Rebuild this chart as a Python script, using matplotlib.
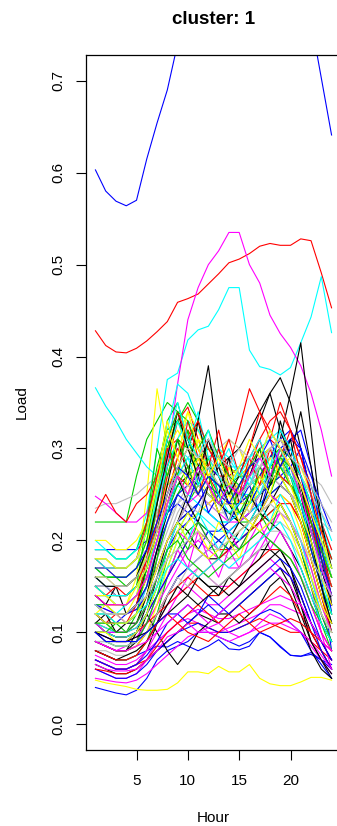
import numpy as np
import matplotlib.pyplot as plt
from cycler import cycler

# 時間軸
hours = np.arange(1, 25)

# 各世帯の負荷（色順: black, red, green3, blue, cyan, magenta, yellow, gray）
black0 = [0.10, 0.09, 0.09, 0.09, 0.10, 0.13, 0.18, 0.24, 0.28, 0.30, 0.33, 0.39, 0.30, 0.26, 0.23, 0.22, 0.24, 0.28, 0.30, 0.27, 0.24, 0.20, 0.15, 0.10]
red0 = [0.428, 0.412, 0.405, 0.404, 0.409, 0.417, 0.427, 0.438, 0.459, 0.463, 0.468, 0.479, 0.49, 0.502, 0.506, 0.512, 0.52, 0.523, 0.521, 0.521, 0.528, 0.526, 0.491, 0.453]
green0 = [0.22, 0.22, 0.22, 0.22, 0.27, 0.31, 0.33, 0.35, 0.34, 0.31, 0.29, 0.28, 0.27, 0.26, 0.25, 0.26, 0.27, 0.28, 0.27, 0.26, 0.25, 0.22, 0.18, 0.15]
blue0 = [0.603, 0.58, 0.569, 0.564, 0.57, 0.615, 0.654, 0.69, 0.74, 0.78, 0.80, 0.82, 0.83, 0.83, 0.82, 0.81, 0.80, 0.79, 0.78, 0.775, 0.77, 0.765, 0.703, 0.641]
cyan0 = [0.20, 0.19, 0.18, 0.18, 0.19, 0.23, 0.30, 0.375, 0.382, 0.418, 0.429, 0.433, 0.451, 0.475, 0.475, 0.407, 0.389, 0.386, 0.38, 0.388, 0.415, 0.443, 0.487, 0.426]
magenta0 = [0.12, 0.11, 0.11, 0.11, 0.12, 0.15, 0.22, 0.29, 0.37, 0.44, 0.475, 0.50, 0.515, 0.535, 0.535, 0.50, 0.48, 0.445, 0.425, 0.41, 0.39, 0.36, 0.32, 0.27]
yellow0 = [0.14, 0.13, 0.13, 0.13, 0.16, 0.25, 0.365, 0.30, 0.27, 0.28, 0.27, 0.25, 0.24, 0.24, 0.23, 0.24, 0.25, 0.26, 0.27, 0.26, 0.24, 0.21, 0.18, 0.15]
gray0 = [0.235, 0.24, 0.24, 0.245, 0.25, 0.26, 0.27, 0.29, 0.30, 0.31, 0.30, 0.29, 0.28, 0.27, 0.27, 0.28, 0.29, 0.30, 0.31, 0.30, 0.29, 0.27, 0.26, 0.24]

black1 = [0.13, 0.12, 0.12, 0.12, 0.13, 0.16, 0.20, 0.24, 0.26, 0.27, 0.26, 0.25, 0.24, 0.24, 0.25, 0.27, 0.29, 0.30, 0.31, 0.36, 0.415, 0.32, 0.22, 0.13]
red1 = [0.16, 0.15, 0.15, 0.15, 0.16, 0.19, 0.23, 0.26, 0.27, 0.26, 0.25, 0.24, 0.25, 0.28, 0.32, 0.365, 0.34, 0.32, 0.30, 0.28, 0.27, 0.24, 0.20, 0.16]
green1 = [0.18, 0.18, 0.17, 0.17, 0.18, 0.21, 0.27, 0.33, 0.35, 0.31, 0.28, 0.26, 0.25, 0.24, 0.23, 0.24, 0.26, 0.28, 0.29, 0.28, 0.26, 0.23, 0.19, 0.16]
blue1 = [0.04, 0.037, 0.034, 0.032, 0.037, 0.05, 0.07, 0.08, 0.085, 0.09, 0.10, 0.10, 0.095, 0.09, 0.085, 0.09, 0.10, 0.095, 0.085, 0.075, 0.074, 0.078, 0.07, 0.06]
cyan1 = [0.366, 0.346, 0.33, 0.31, 0.295, 0.28, 0.27, 0.26, 0.27, 0.29, 0.30, 0.28, 0.26, 0.25, 0.26, 0.27, 0.28, 0.29, 0.30, 0.29, 0.27, 0.24, 0.20, 0.17]
magenta1 = [0.248, 0.24, 0.23, 0.22, 0.22, 0.23, 0.26, 0.29, 0.30, 0.28, 0.27, 0.26, 0.25, 0.25, 0.26, 0.27, 0.28, 0.27, 0.26, 0.25, 0.24, 0.22, 0.19, 0.16]
yellow1 = [0.15, 0.14, 0.14, 0.14, 0.15, 0.19, 0.26, 0.31, 0.33, 0.30, 0.28, 0.27, 0.29, 0.31, 0.30, 0.27, 0.25, 0.26, 0.28, 0.29, 0.27, 0.24, 0.20, 0.17]
gray1 = [0.12, 0.11, 0.11, 0.11, 0.12, 0.14, 0.18, 0.22, 0.25, 0.27, 0.28, 0.29, 0.30, 0.31, 0.30, 0.28, 0.27, 0.27, 0.28, 0.27, 0.25, 0.22, 0.19, 0.16]

black2 = [0.09, 0.085, 0.08, 0.08, 0.09, 0.12, 0.16, 0.20, 0.22, 0.23, 0.24, 0.26, 0.28, 0.29, 0.30, 0.32, 0.34, 0.36, 0.377, 0.35, 0.30, 0.25, 0.18, 0.12]
red2 = [0.13, 0.12, 0.12, 0.12, 0.13, 0.17, 0.22, 0.28, 0.33, 0.345, 0.31, 0.28, 0.26, 0.25, 0.26, 0.28, 0.30, 0.31, 0.30, 0.28, 0.26, 0.23, 0.19, 0.15]
green2 = [0.10, 0.10, 0.095, 0.095, 0.10, 0.12, 0.15, 0.19, 0.22, 0.24, 0.26, 0.25, 0.24, 0.23, 0.22, 0.22, 0.23, 0.25, 0.26, 0.25, 0.23, 0.19, 0.15, 0.11]
blue2 = [0.08, 0.075, 0.07, 0.07, 0.075, 0.08, 0.085, 0.084, 0.09, 0.085, 0.08, 0.085, 0.092, 0.082, 0.081, 0.085, 0.10, 0.095, 0.084, 0.075, 0.074, 0.076, 0.07, 0.065]
cyan2 = [0.17, 0.16, 0.16, 0.16, 0.17, 0.20, 0.26, 0.32, 0.37, 0.36, 0.33, 0.30, 0.28, 0.26, 0.25, 0.25, 0.26, 0.27, 0.28, 0.27, 0.25, 0.22, 0.18, 0.15]
magenta2 = [0.06, 0.055, 0.05, 0.05, 0.055, 0.07, 0.09, 0.10, 0.11, 0.115, 0.11, 0.10, 0.10, 0.105, 0.11, 0.115, 0.12, 0.13, 0.13, 0.125, 0.12, 0.10, 0.08, 0.06]
yellow2 = [0.048, 0.045, 0.043, 0.041, 0.038, 0.037, 0.037, 0.038, 0.045, 0.057, 0.057, 0.055, 0.063, 0.057, 0.057, 0.065, 0.05, 0.044, 0.042, 0.042, 0.046, 0.051, 0.051, 0.048]
gray2 = [0.17, 0.16, 0.16, 0.16, 0.17, 0.19, 0.23, 0.27, 0.29, 0.31, 0.32, 0.30, 0.28, 0.26, 0.24, 0.25, 0.27, 0.28, 0.30, 0.29, 0.27, 0.25, 0.22, 0.19]

black3 = [0.07, 0.065, 0.06, 0.06, 0.065, 0.08, 0.11, 0.14, 0.16, 0.17, 0.16, 0.15, 0.15, 0.16, 0.17, 0.18, 0.19, 0.19, 0.18, 0.16, 0.13, 0.10, 0.08, 0.06]
red3 = [0.23, 0.25, 0.23, 0.22, 0.24, 0.25, 0.27, 0.30, 0.31, 0.30, 0.29, 0.28, 0.27, 0.27, 0.28, 0.29, 0.31, 0.33, 0.34, 0.32, 0.29, 0.26, 0.22, 0.19]
green3 = [0.14, 0.14, 0.13, 0.13, 0.14, 0.17, 0.22, 0.28, 0.31, 0.30, 0.28, 0.26, 0.24, 0.23, 0.23, 0.24, 0.25, 0.26, 0.27, 0.25, 0.22, 0.19, 0.15, 0.12]
blue3 = [0.19, 0.19, 0.19, 0.19, 0.19, 0.20, 0.21, 0.23, 0.25, 0.26, 0.27, 0.28, 0.27, 0.26, 0.25, 0.26, 0.28, 0.29, 0.30, 0.31, 0.30, 0.27, 0.24, 0.21]
cyan3 = [0.12, 0.11, 0.11, 0.11, 0.12, 0.15, 0.19, 0.24, 0.27, 0.28, 0.27, 0.26, 0.25, 0.25, 0.24, 0.25, 0.26, 0.27, 0.28, 0.27, 0.25, 0.21, 0.17, 0.13]
magenta3 = [0.08, 0.075, 0.07, 0.07, 0.075, 0.09, 0.11, 0.13, 0.14, 0.15, 0.14, 0.13, 0.13, 0.14, 0.15, 0.16, 0.17, 0.18, 0.17, 0.16, 0.14, 0.11, 0.09, 0.07]
yellow3 = [0.20, 0.20, 0.19, 0.19, 0.20, 0.22, 0.26, 0.30, 0.33, 0.31, 0.29, 0.27, 0.26, 0.25, 0.26, 0.27, 0.28, 0.29, 0.30, 0.28, 0.26, 0.23, 0.20, 0.17]
gray3 = [0.10, 0.10, 0.095, 0.095, 0.10, 0.11, 0.13, 0.16, 0.18, 0.19, 0.20, 0.21, 0.20, 0.19, 0.19, 0.20, 0.21, 0.22, 0.22, 0.21, 0.19, 0.16, 0.13, 0.11]

black4 = [0.15, 0.15, 0.14, 0.14, 0.15, 0.18, 0.24, 0.30, 0.33, 0.31, 0.28, 0.26, 0.24, 0.23, 0.22, 0.23, 0.25, 0.27, 0.28, 0.27, 0.25, 0.22, 0.19, 0.16]
red4 = [0.07, 0.065, 0.06, 0.06, 0.065, 0.07, 0.08, 0.09, 0.10, 0.11, 0.11, 0.105, 0.10, 0.10, 0.105, 0.11, 0.115, 0.11, 0.105, 0.10, 0.10, 0.09, 0.08, 0.07]
green4 = [0.16, 0.16, 0.16, 0.15, 0.16, 0.19, 0.25, 0.30, 0.33, 0.35, 0.33, 0.30, 0.29, 0.28, 0.27, 0.26, 0.27, 0.28, 0.27, 0.26, 0.24, 0.21, 0.18, 0.15]
blue4 = [0.09, 0.085, 0.08, 0.08, 0.085, 0.10, 0.12, 0.14, 0.16, 0.17, 0.18, 0.19, 0.20, 0.21, 0.22, 0.23, 0.24, 0.25, 0.26, 0.28, 0.30, 0.25, 0.16, 0.08]
cyan4 = [0.14, 0.14, 0.13, 0.13, 0.14, 0.16, 0.20, 0.24, 0.26, 0.25, 0.24, 0.23, 0.22, 0.22, 0.23, 0.24, 0.26, 0.28, 0.30, 0.29, 0.27, 0.24, 0.20, 0.16]
magenta4 = [0.07, 0.065, 0.06, 0.06, 0.065, 0.08, 0.10, 0.12, 0.14, 0.16, 0.17, 0.16, 0.15, 0.15, 0.16, 0.17, 0.19, 0.21, 0.23, 0.22, 0.19, 0.15, 0.10, 0.06]
yellow4 = [0.11, 0.11, 0.10, 0.10, 0.11, 0.14, 0.19, 0.25, 0.29, 0.32, 0.30, 0.28, 0.26, 0.25, 0.24, 0.25, 0.26, 0.28, 0.30, 0.28, 0.25, 0.20, 0.15, 0.11]
gray4 = [0.13, 0.13, 0.12, 0.12, 0.13, 0.15, 0.18, 0.21, 0.24, 0.25, 0.26, 0.25, 0.24, 0.24, 0.25, 0.26, 0.27, 0.28, 0.28, 0.27, 0.26, 0.24, 0.21, 0.18]

black5 = [0.065, 0.06, 0.055, 0.055, 0.06, 0.07, 0.08, 0.09, 0.10, 0.11, 0.12, 0.115, 0.11, 0.12, 0.13, 0.14, 0.15, 0.16, 0.17, 0.15, 0.12, 0.09, 0.07, 0.05]
red5 = [0.11, 0.105, 0.10, 0.10, 0.105, 0.12, 0.14, 0.16, 0.18, 0.20, 0.21, 0.20, 0.19, 0.19, 0.20, 0.21, 0.23, 0.24, 0.25, 0.24, 0.22, 0.18, 0.14, 0.11]
green5 = [0.12, 0.12, 0.11, 0.11, 0.12, 0.14, 0.18, 0.22, 0.25, 0.27, 0.28, 0.27, 0.26, 0.25, 0.25, 0.26, 0.27, 0.28, 0.29, 0.28, 0.26, 0.22, 0.17, 0.13]
blue5 = [0.15, 0.15, 0.14, 0.14, 0.15, 0.17, 0.20, 0.23, 0.24, 0.23, 0.22, 0.21, 0.21, 0.22, 0.23, 0.24, 0.25, 0.26, 0.27, 0.28, 0.26, 0.22, 0.17, 0.13]
cyan5 = [0.16, 0.15, 0.15, 0.15, 0.16, 0.18, 0.22, 0.27, 0.30, 0.29, 0.28, 0.29, 0.30, 0.29, 0.27, 0.26, 0.27, 0.29, 0.31, 0.29, 0.27, 0.25, 0.22, 0.18]
magenta5 = [0.05, 0.048, 0.046, 0.045, 0.048, 0.055, 0.065, 0.075, 0.085, 0.095, 0.10, 0.10, 0.095, 0.09, 0.095, 0.10, 0.105, 0.11, 0.11, 0.105, 0.10, 0.085, 0.07, 0.055]
yellow5 = [0.17, 0.17, 0.16, 0.16, 0.17, 0.20, 0.25, 0.30, 0.32, 0.30, 0.28, 0.26, 0.25, 0.24, 0.24, 0.25, 0.27, 0.28, 0.28, 0.27, 0.25, 0.22, 0.19, 0.16]
gray5 = [0.18, 0.18, 0.17, 0.17, 0.18, 0.19, 0.22, 0.25, 0.27, 0.28, 0.27, 0.26, 0.25, 0.25, 0.25, 0.26, 0.27, 0.27, 0.26, 0.25, 0.24, 0.23, 0.22, 0.21]

black6 = [0.12, 0.11, 0.11, 0.11, 0.12, 0.14, 0.17, 0.20, 0.22, 0.21, 0.19, 0.18, 0.18, 0.19, 0.21, 0.22, 0.23, 0.22, 0.21, 0.19, 0.17, 0.14, 0.11, 0.09]
red6 = [0.09, 0.085, 0.08, 0.08, 0.085, 0.10, 0.12, 0.14, 0.15, 0.16, 0.15, 0.14, 0.14, 0.15, 0.16, 0.17, 0.18, 0.19, 0.19, 0.18, 0.16, 0.13, 0.10, 0.08]
green6 = [0.08, 0.075, 0.07, 0.07, 0.075, 0.09, 0.12, 0.16, 0.19, 0.21, 0.22, 0.21, 0.20, 0.19, 0.20, 0.21, 0.22, 0.23, 0.24, 0.22, 0.19, 0.15, 0.11, 0.08]
blue6 = [0.11, 0.10, 0.10, 0.10, 0.11, 0.13, 0.16, 0.19, 0.21, 0.22, 0.24, 0.23, 0.22, 0.21, 0.22, 0.24, 0.26, 0.27, 0.29, 0.31, 0.32, 0.28, 0.20, 0.12]
cyan6 = [0.09, 0.09, 0.085, 0.085, 0.09, 0.11, 0.14, 0.17, 0.20, 0.22, 0.23, 0.22, 0.21, 0.21, 0.22, 0.23, 0.24, 0.25, 0.24, 0.22, 0.20, 0.17, 0.13, 0.10]
magenta6 = [0.13, 0.125, 0.12, 0.12, 0.125, 0.14, 0.17, 0.20, 0.22, 0.24, 0.25, 0.24, 0.23, 0.22, 0.22, 0.23, 0.25, 0.27, 0.28, 0.27, 0.25, 0.21, 0.17, 0.13]
yellow6 = [0.13, 0.12, 0.12, 0.12, 0.13, 0.16, 0.21, 0.27, 0.31, 0.34, 0.32, 0.29, 0.27, 0.25, 0.24, 0.24, 0.25, 0.27, 0.28, 0.26, 0.23, 0.19, 0.15, 0.12]
gray6 = [0.08, 0.08, 0.075, 0.075, 0.08, 0.09, 0.11, 0.13, 0.15, 0.17, 0.18, 0.19, 0.19, 0.18, 0.18, 0.19, 0.20, 0.21, 0.21, 0.20, 0.18, 0.15, 0.12, 0.10]

black7 = [0.10, 0.10, 0.095, 0.095, 0.10, 0.12, 0.15, 0.19, 0.22, 0.25, 0.28, 0.31, 0.27, 0.24, 0.22, 0.21, 0.22, 0.24, 0.26, 0.25, 0.22, 0.18, 0.14, 0.10]
red7 = [0.14, 0.13, 0.13, 0.13, 0.14, 0.16, 0.20, 0.25, 0.29, 0.32, 0.30, 0.27, 0.25, 0.24, 0.24, 0.25, 0.27, 0.29, 0.31, 0.29, 0.26, 0.22, 0.18, 0.14]
green7 = [0.19, 0.19, 0.18, 0.18, 0.19, 0.22, 0.28, 0.32, 0.33, 0.31, 0.29, 0.27, 0.26, 0.26, 0.27, 0.28, 0.29, 0.30, 0.29, 0.27, 0.25, 0.23, 0.20, 0.17]
blue7 = [0.06, 0.055, 0.05, 0.05, 0.055, 0.065, 0.08, 0.09, 0.10, 0.105, 0.11, 0.105, 0.10, 0.10, 0.105, 0.11, 0.12, 0.125, 0.12, 0.11, 0.10, 0.08, 0.065, 0.05]
cyan7 = [0.11, 0.105, 0.10, 0.10, 0.105, 0.12, 0.15, 0.18, 0.21, 0.23, 0.24, 0.23, 0.22, 0.22, 0.23, 0.24, 0.25, 0.27, 0.28, 0.27, 0.24, 0.20, 0.15, 0.11]
magenta7 = [0.10, 0.095, 0.09, 0.09, 0.095, 0.11, 0.13, 0.15, 0.17, 0.19, 0.20, 0.19, 0.18, 0.17, 0.17, 0.18, 0.20, 0.22, 0.23, 0.22, 0.20, 0.16, 0.12, 0.09]
yellow7 = [0.09, 0.085, 0.08, 0.08, 0.085, 0.10, 0.13, 0.17, 0.20, 0.22, 0.23, 0.24, 0.25, 0.24, 0.23, 0.22, 0.23, 0.24, 0.25, 0.24, 0.21, 0.17, 0.13, 0.10]
gray7 = [0.14, 0.14, 0.13, 0.13, 0.14, 0.16, 0.19, 0.22, 0.24, 0.26, 0.25, 0.24, 0.23, 0.23, 0.24, 0.25, 0.26, 0.27, 0.27, 0.26, 0.24, 0.21, 0.18, 0.15]

black8 = [0.09, 0.085, 0.08, 0.08, 0.10, 0.12, 0.10, 0.08, 0.065, 0.08, 0.10, 0.11, 0.12, 0.12, 0.11, 0.12, 0.13, 0.15, 0.16, 0.14, 0.11, 0.08, 0.06, 0.05]
red8 = [0.10, 0.10, 0.095, 0.095, 0.10, 0.11, 0.12, 0.13, 0.14, 0.15, 0.16, 0.17, 0.18, 0.19, 0.20, 0.21, 0.22, 0.23, 0.24, 0.24, 0.22, 0.18, 0.14, 0.10]
green8 = [0.13, 0.13, 0.12, 0.12, 0.13, 0.15, 0.19, 0.23, 0.26, 0.28, 0.29, 0.30, 0.29, 0.28, 0.27, 0.27, 0.28, 0.29, 0.30, 0.29, 0.27, 0.24, 0.21, 0.18]
blue8 = [0.13, 0.125, 0.12, 0.12, 0.125, 0.14, 0.17, 0.20, 0.22, 0.23, 0.24, 0.26, 0.25, 0.24, 0.24, 0.25, 0.27, 0.29, 0.31, 0.32, 0.30, 0.25, 0.19, 0.14]
cyan8 = [0.19, 0.19, 0.18, 0.18, 0.19, 0.21, 0.24, 0.28, 0.31, 0.33, 0.32, 0.30, 0.29, 0.28, 0.28, 0.29, 0.30, 0.31, 0.32, 0.30, 0.28, 0.26, 0.23, 0.20]
magenta8 = [0.075, 0.07, 0.065, 0.065, 0.07, 0.08, 0.09, 0.10, 0.11, 0.12, 0.125, 0.12, 0.115, 0.115, 0.12, 0.125, 0.13, 0.135, 0.14, 0.135, 0.13, 0.11, 0.09, 0.07]
yellow8 = [0.16, 0.16, 0.15, 0.15, 0.16, 0.18, 0.22, 0.26, 0.28, 0.30, 0.31, 0.30, 0.29, 0.28, 0.27, 0.28, 0.29, 0.30, 0.31, 0.30, 0.28, 0.25, 0.21, 0.17]
gray8 = [0.15, 0.15, 0.14, 0.14, 0.15, 0.17, 0.20, 0.24, 0.27, 0.29, 0.30, 0.29, 0.27, 0.26, 0.26, 0.27, 0.28, 0.29, 0.29, 0.28, 0.27, 0.25, 0.23, 0.21]

black9 = [0.14, 0.13, 0.15, 0.12, 0.13, 0.17, 0.21, 0.26, 0.31, 0.27, 0.33, 0.28, 0.25, 0.29, 0.24, 0.27, 0.30, 0.26, 0.33, 0.29, 0.26, 0.21, 0.17, 0.13]
red9 = [0.12, 0.11, 0.12, 0.11, 0.13, 0.18, 0.24, 0.30, 0.27, 0.33, 0.29, 0.26, 0.30, 0.27, 0.24, 0.28, 0.31, 0.27, 0.29, 0.32, 0.27, 0.22, 0.18, 0.14]
green9 = [0.11, 0.10, 0.11, 0.10, 0.12, 0.17, 0.24, 0.31, 0.27, 0.32, 0.26, 0.29, 0.25, 0.22, 0.26, 0.24, 0.28, 0.26, 0.30, 0.27, 0.23, 0.19, 0.15, 0.12]
blue9 = [0.12, 0.11, 0.11, 0.12, 0.13, 0.15, 0.19, 0.22, 0.25, 0.24, 0.27, 0.23, 0.25, 0.22, 0.24, 0.26, 0.23, 0.27, 0.29, 0.26, 0.24, 0.19, 0.15, 0.11]
cyan9 = [0.13, 0.12, 0.12, 0.13, 0.14, 0.19, 0.25, 0.29, 0.33, 0.30, 0.34, 0.29, 0.27, 0.25, 0.28, 0.26, 0.29, 0.32, 0.30, 0.28, 0.24, 0.20, 0.16, 0.12]
magenta9 = [0.09, 0.085, 0.08, 0.085, 0.09, 0.11, 0.14, 0.16, 0.19, 0.17, 0.21, 0.18, 0.16, 0.19, 0.17, 0.20, 0.22, 0.19, 0.21, 0.19, 0.16, 0.13, 0.10, 0.08]
yellow9 = [0.12, 0.13, 0.12, 0.12, 0.14, 0.19, 0.27, 0.33, 0.29, 0.26, 0.31, 0.27, 0.24, 0.28, 0.25, 0.23, 0.26, 0.29, 0.27, 0.25, 0.22, 0.18, 0.14, 0.11]
gray9 = [0.11, 0.11, 0.10, 0.10, 0.11, 0.13, 0.16, 0.19, 0.22, 0.24, 0.23, 0.26, 0.24, 0.22, 0.25, 0.23, 0.25, 0.27, 0.26, 0.25, 0.23, 0.20, 0.17, 0.14]

black10 = [0.11, 0.12, 0.10, 0.11, 0.11, 0.14, 0.19, 0.23, 0.27, 0.24, 0.22, 0.26, 0.23, 0.20, 0.22, 0.25, 0.23, 0.26, 0.28, 0.31, 0.25, 0.20, 0.15, 0.11]
red10 = [0.15, 0.14, 0.15, 0.14, 0.15, 0.18, 0.22, 0.27, 0.30, 0.28, 0.25, 0.28, 0.32, 0.27, 0.25, 0.29, 0.26, 0.30, 0.27, 0.26, 0.24, 0.21, 0.18, 0.15]
green10 = [0.15, 0.14, 0.14, 0.14, 0.15, 0.22, 0.30, 0.27, 0.31, 0.28, 0.25, 0.27, 0.24, 0.26, 0.23, 0.25, 0.27, 0.25, 0.28, 0.26, 0.24, 0.21, 0.18, 0.14]
blue10 = [0.10, 0.095, 0.09, 0.09, 0.10, 0.12, 0.14, 0.16, 0.18, 0.20, 0.19, 0.21, 0.20, 0.19, 0.20, 0.21, 0.23, 0.25, 0.24, 0.22, 0.19, 0.15, 0.12, 0.09]
cyan10 = [0.15, 0.14, 0.14, 0.14, 0.15, 0.17, 0.20, 0.23, 0.27, 0.29, 0.26, 0.28, 0.25, 0.23, 0.24, 0.27, 0.25, 0.28, 0.30, 0.27, 0.24, 0.21, 0.17, 0.14]
magenta10 = [0.11, 0.10, 0.10, 0.10, 0.11, 0.13, 0.16, 0.18, 0.21, 0.20, 0.22, 0.20, 0.19, 0.21, 0.19, 0.21, 0.23, 0.25, 0.24, 0.22, 0.20, 0.17, 0.13, 0.10]
yellow10 = [0.14, 0.14, 0.13, 0.13, 0.15, 0.17, 0.21, 0.24, 0.27, 0.25, 0.29, 0.26, 0.23, 0.25, 0.22, 0.24, 0.27, 0.25, 0.29, 0.26, 0.23, 0.20, 0.16, 0.13]
gray10 = [0.12, 0.12, 0.12, 0.11, 0.12, 0.14, 0.17, 0.20, 0.23, 0.25, 0.27, 0.28, 0.26, 0.27, 0.25, 0.26, 0.28, 0.30, 0.29, 0.28, 0.26, 0.23, 0.20, 0.17]

black11 = [0.08, 0.075, 0.07, 0.075, 0.08, 0.09, 0.11, 0.13, 0.15, 0.14, 0.16, 0.15, 0.14, 0.16, 0.15, 0.17, 0.18, 0.20, 0.19, 0.17, 0.14, 0.11, 0.09, 0.07]
red11 = [0.06, 0.058, 0.055, 0.055, 0.06, 0.07, 0.085, 0.10, 0.11, 0.12, 0.13, 0.12, 0.11, 0.12, 0.13, 0.12, 0.13, 0.14, 0.15, 0.14, 0.12, 0.10, 0.08, 0.06]
green11 = [0.09, 0.09, 0.085, 0.085, 0.09, 0.11, 0.14, 0.18, 0.21, 0.19, 0.22, 0.20, 0.18, 0.20, 0.19, 0.21, 0.23, 0.21, 0.24, 0.22, 0.19, 0.15, 0.12, 0.09]
blue11 = [0.07, 0.065, 0.06, 0.06, 0.065, 0.075, 0.09, 0.11, 0.12, 0.13, 0.12, 0.14, 0.13, 0.12, 0.13, 0.14, 0.15, 0.16, 0.17, 0.16, 0.14, 0.11, 0.08, 0.06]
cyan11 = [0.10, 0.10, 0.095, 0.095, 0.10, 0.12, 0.15, 0.19, 0.22, 0.20, 0.23, 0.21, 0.19, 0.21, 0.20, 0.22, 0.24, 0.22, 0.25, 0.23, 0.20, 0.16, 0.12, 0.10]
magenta11 = [0.065, 0.06, 0.058, 0.058, 0.06, 0.07, 0.08, 0.095, 0.10, 0.11, 0.10, 0.105, 0.11, 0.10, 0.095, 0.10, 0.11, 0.12, 0.115, 0.11, 0.10, 0.09, 0.075, 0.06]
yellow11 = [0.10, 0.10, 0.09, 0.09, 0.10, 0.12, 0.15, 0.18, 0.21, 0.23, 0.21, 0.19, 0.22, 0.20, 0.18, 0.21, 0.23, 0.25, 0.23, 0.21, 0.18, 0.15, 0.12, 0.10]
gray11 = [0.09, 0.09, 0.085, 0.085, 0.09, 0.10, 0.12, 0.14, 0.16, 0.15, 0.17, 0.16, 0.15, 0.16, 0.17, 0.18, 0.19, 0.20, 0.19, 0.18, 0.16, 0.14, 0.12, 0.10]

black12 = [0.16, 0.15, 0.15, 0.15, 0.16, 0.19, 0.24, 0.29, 0.34, 0.30, 0.27, 0.31, 0.28, 0.25, 0.27, 0.30, 0.33, 0.36, 0.32, 0.29, 0.34, 0.28, 0.22, 0.17]
red12 = [0.18, 0.17, 0.17, 0.17, 0.18, 0.22, 0.27, 0.31, 0.34, 0.31, 0.33, 0.30, 0.28, 0.31, 0.27, 0.30, 0.34, 0.31, 0.35, 0.32, 0.29, 0.25, 0.21, 0.18]
green12 = [0.17, 0.16, 0.16, 0.16, 0.17, 0.20, 0.26, 0.31, 0.34, 0.33, 0.30, 0.32, 0.29, 0.27, 0.26, 0.28, 0.30, 0.27, 0.29, 0.28, 0.25, 0.22, 0.19, 0.16]
blue12 = [0.17, 0.17, 0.16, 0.16, 0.17, 0.19, 0.22, 0.25, 0.28, 0.27, 0.25, 0.27, 0.26, 0.24, 0.26, 0.28, 0.29, 0.31, 0.28, 0.30, 0.27, 0.23, 0.18, 0.14]
cyan12 = [0.18, 0.17, 0.17, 0.17, 0.18, 0.21, 0.26, 0.31, 0.35, 0.31, 0.29, 0.32, 0.28, 0.30, 0.27, 0.29, 0.31, 0.28, 0.32, 0.30, 0.27, 0.24, 0.20, 0.17]
magenta12 = [0.14, 0.13, 0.13, 0.13, 0.14, 0.16, 0.20, 0.24, 0.27, 0.25, 0.28, 0.26, 0.24, 0.26, 0.25, 0.27, 0.29, 0.27, 0.30, 0.28, 0.25, 0.21, 0.17, 0.14]
yellow12 = [0.18, 0.18, 0.17, 0.17, 0.18, 0.21, 0.26, 0.32, 0.29, 0.34, 0.30, 0.27, 0.29, 0.26, 0.28, 0.31, 0.29, 0.32, 0.30, 0.28, 0.26, 0.23, 0.20, 0.17]
gray12 = [0.16, 0.16, 0.15, 0.15, 0.16, 0.18, 0.21, 0.25, 0.28, 0.30, 0.29, 0.31, 0.29, 0.28, 0.30, 0.29, 0.28, 0.30, 0.31, 0.29, 0.28, 0.26, 0.24, 0.22]

black13 = [0.10, 0.095, 0.09, 0.09, 0.095, 0.10, 0.11, 0.12, 0.13, 0.14, 0.13, 0.14, 0.15, 0.14, 0.15, 0.16, 0.17, 0.18, 0.19, 0.17, 0.13, 0.09, 0.07, 0.055]
red13 = [0.08, 0.075, 0.07, 0.07, 0.075, 0.09, 0.11, 0.12, 0.11, 0.10, 0.095, 0.09, 0.10, 0.11, 0.12, 0.11, 0.10, 0.105, 0.11, 0.115, 0.11, 0.10, 0.09, 0.08]
green13 = [0.11, 0.11, 0.10, 0.10, 0.11, 0.13, 0.16, 0.19, 0.20, 0.18, 0.17, 0.16, 0.17, 0.18, 0.19, 0.20, 0.21, 0.20, 0.19, 0.18, 0.16, 0.13, 0.11, 0.09]
blue13 = [0.10, 0.09, 0.09, 0.09, 0.09, 0.10, 0.11, 0.12, 0.12, 0.11, 0.12, 0.13, 0.12, 0.13, 0.14, 0.15, 0.16, 0.17, 0.18, 0.17, 0.15, 0.12, 0.09, 0.07]
cyan13 = [0.12, 0.12, 0.11, 0.11, 0.12, 0.13, 0.15, 0.17, 0.18, 0.17, 0.16, 0.17, 0.18, 0.17, 0.18, 0.19, 0.20, 0.21, 0.22, 0.20, 0.17, 0.14, 0.11, 0.09]
magenta13 = [0.09, 0.085, 0.08, 0.08, 0.085, 0.09, 0.10, 0.11, 0.12, 0.13, 0.12, 0.11, 0.12, 0.13, 0.14, 0.15, 0.16, 0.17, 0.16, 0.15, 0.13, 0.11, 0.09, 0.08]
yellow13 = [0.12, 0.11, 0.11, 0.11, 0.12, 0.14, 0.17, 0.20, 0.22, 0.20, 0.19, 0.18, 0.19, 0.20, 0.21, 0.22, 0.21, 0.22, 0.24, 0.22, 0.19, 0.16, 0.13, 0.11]
gray13 = [0.13, 0.12, 0.12, 0.12, 0.13, 0.14, 0.16, 0.18, 0.19, 0.20, 0.21, 0.20, 0.19, 0.20, 0.21, 0.22, 0.23, 0.24, 0.23, 0.22, 0.20, 0.18, 0.16, 0.14]

loads = [
    black0, red0, green0, blue0, cyan0, magenta0, yellow0, gray0,
    black1, red1, green1, blue1, cyan1, magenta1, yellow1, gray1,
    black2, red2, green2, blue2, cyan2, magenta2, yellow2, gray2,
    black3, red3, green3, blue3, cyan3, magenta3, yellow3, gray3,
    black4, red4, green4, blue4, cyan4, magenta4, yellow4, gray4,
    black5, red5, green5, blue5, cyan5, magenta5, yellow5, gray5,
    black6, red6, green6, blue6, cyan6, magenta6, yellow6, gray6,
    black7, red7, green7, blue7, cyan7, magenta7, yellow7, gray7,
    black8, red8, green8, blue8, cyan8, magenta8, yellow8, gray8,
    black9, red9, green9, blue9, cyan9, magenta9, yellow9, gray9,
    black10, red10, green10, blue10, cyan10, magenta10, yellow10, gray10,
    black11, red11, green11, blue11, cyan11, magenta11, yellow11, gray11,
    black12, red12, green12, blue12, cyan12, magenta12, yellow12, gray12,
    black13, red13, green13, blue13, cyan13, magenta13, yellow13, gray13,
]

# Rの旧パレット
r_palette = ["#000000", "#FF0000", "#00CD00", "#0000FF", "#00FFFF", "#FF00FF", "#FFFF00", "#BEBEBE"]

plt.rcParams['font.family'] = ['Liberation Sans', 'DejaVu Sans']

fig = plt.figure(figsize=(3.37, 8.26), dpi=100)
ax = fig.add_axes([0.2552, 0.092, 0.7567, 0.8414])
ax.set_prop_cycle(cycler(color=r_palette))

for y in loads:
    ax.plot(hours, y, lw=0.8)

ax.set_xlim(0.08, 24.92)
ax.set_ylim(-0.028, 0.728)
ax.set_xticks([5, 10, 15, 20])
ax.set_yticks(np.arange(0, 0.71, 0.1))
ax.set_yticklabels(["0.0", "0.1", "0.2", "0.3", "0.4", "0.5", "0.6", "0.7"],
                   rotation=90, va="center")
ax.tick_params(length=7, width=0.8, labelsize=11, pad=8)
ax.tick_params(axis="x", pad=10)
for s in ax.spines.values():
    s.set_linewidth(0.9)

fig.text(213.5 / 337, 1 - 20 / 826, "cluster: 1", ha="center", va="center",
         fontsize=13.5, fontweight="bold")
fig.text(213.5 / 337, 1 - 818 / 826, "Hour", ha="center", va="center", fontsize=11)
fig.text(22 / 337, 1 - 402 / 826, "Load", ha="center", va="center", fontsize=11, rotation=90)

fig.savefig("out.png", dpi=100)
